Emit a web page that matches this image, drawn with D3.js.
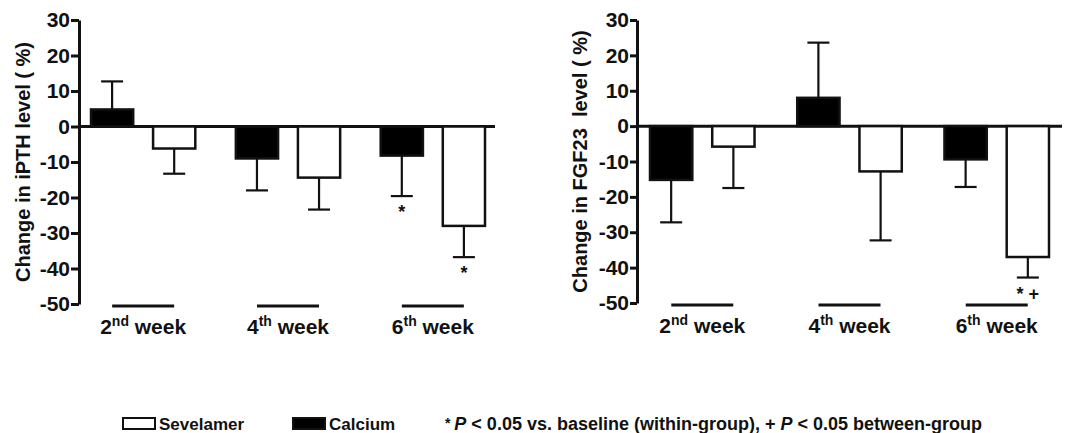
<!DOCTYPE html>
<html>
<head>
<meta charset="utf-8">
<script src="https://cdn.jsdelivr.net/npm/d3@7"></script>
<style>
  body { margin: 0; background: #fff; }
  svg { font-family: 'Liberation Sans', Arial, sans-serif; font-weight: bold; fill: #111; }
  .axis .tick text { font-size: 21px; font-weight: bold; fill: #111; }
  .axis path, .axis line { stroke: #111; stroke-width: 3; }
  .axis-title { font-size: 20px; }
  .week-label { font-size: 21px; }
  .mark { font-size: 18px; }
  .legend text { font-size: 17px; }
  .legend .note { font-size: 18px; }
</style>
</head>
<body>
<svg id="chart" width="1067" height="433"></svg>
<script>
// categories
const weeks = ['2', '4', '6'];
const weekSuffix = ['nd', 'th', 'th'];
const groups = ['Calcium', 'Sevelamer'];
const yTicks = [30, 20, 10, 0, -10, -20, -30, -40, -50];

// iPTH panel: mean change (%) and error bar length
const pthCalcium = [4.8, -9.0, -8.2];
const pthCalciumErr = [7.9, 9.0, 11.4];
const pthSevelamer = [-6.2, -14.4, -28.0];
const pthSevelamerErr = [7.1, 9.0, 8.8];
const pthMarks = [['', ''], ['', ''], ['*', '*']];

// FGF23 panel
const fgfCalcium = [-15.2, 8.0, -9.4];
const fgfCalciumErr = [12.0, 15.6, 7.8];
const fgfSevelamer = [-5.8, -12.8, -37.0];
const fgfSevelamerErr = [11.7, 19.5, 5.8];
const fgfMarks = [['', ''], ['', ''], ['', '* +']];

function makeRows(calc, calcErr, sev, sevErr, marks) {
  const rows = [];
  weeks.forEach((w, i) => {
    rows.push({week: w, group: 'Calcium', value: calc[i], err: calcErr[i], mark: marks[i][0]});
    rows.push({week: w, group: 'Sevelamer', value: sev[i], err: sevErr[i], mark: marks[i][1]});
  });
  return rows;
}

class GroupedBars {

  constructor(_config, _data) {
    this.config = {
      parentElement: _config.parentElement,
      axisX: _config.axisX,
      top: _config.top || 20,
      bottom: _config.bottom || 304,
      barRange: _config.barRange,
      lineEnd: _config.lineEnd,
      groupPadding: _config.groupPadding || 0.28,
      tickSize: _config.tickSize || 8,
      title: _config.title,
      titleX: _config.titleX
    };
    this.data = _data;
    this.initVis();
  }

  initVis() {
    let vis = this;
    const c = vis.config;

    vis.yScale = d3.scaleLinear()
        .domain([-50, 30])
        .range([c.bottom, c.top]);

    vis.xScale = d3.scaleBand()
        .domain(weeks)
        .range(c.barRange)
        .paddingInner(c.groupPadding);

    vis.xSub = d3.scaleBand()
        .domain(groups)
        .range([0, vis.xScale.bandwidth()])
        .paddingInner(0.32);

    vis.colorScale = d3.scaleOrdinal()
        .domain(groups)
        .range(['#000', '#fff']);

    // plain hyphen for negatives, like the original figure
    vis.yAxis = d3.axisLeft(vis.yScale)
        .tickValues(yTicks)
        .tickSize(c.tickSize)
        .tickSizeOuter(0)
        .tickPadding(1)
        .tickFormat(d => String(d));

    vis.svg = d3.select(c.parentElement);
    vis.chart = vis.svg.append('g');

    vis.chart.append('text')
        .attr('class', 'axis-title')
        .attr('transform', `translate(${c.titleX},${(c.top + c.bottom) / 2}) rotate(-90)`)
        .attr('text-anchor', 'middle')
        .attr('dominant-baseline', 'central')
        .attr('xml:space', 'preserve')
        .text(c.title);

    vis.updateVis();
  }

  updateVis() {
    let vis = this;
    vis.xValue = d => vis.xScale(d.week) + vis.xSub(d.group);
    vis.cx = d => vis.xValue(d) + vis.xSub.bandwidth() / 2;
    vis.tip = d => d.value + (d.value >= 0 ? d.err : -d.err);
    vis.renderVis();
  }

  renderVis() {
    let vis = this;
    const c = vis.config;
    const y0 = vis.yScale(0);

    // error bars (behind the bars)
    const err = vis.chart.selectAll('.err')
        .data(vis.data)
      .join('g')
        .attr('class', 'err')
        .attr('stroke', '#111')
        .attr('stroke-width', 2.2);

    err.append('line')
        .attr('x1', vis.cx).attr('x2', vis.cx)
        .attr('y1', d => vis.yScale(d.value))
        .attr('y2', d => vis.yScale(vis.tip(d)));

    err.append('line')
        .attr('x1', d => vis.cx(d) - 11).attr('x2', d => vis.cx(d) + 11)
        .attr('y1', d => vis.yScale(vis.tip(d)))
        .attr('y2', d => vis.yScale(vis.tip(d)));

    // zero line
    vis.chart.append('line')
        .attr('x1', c.axisX).attr('x2', c.lineEnd)
        .attr('y1', y0).attr('y2', y0)
        .attr('stroke', '#111')
        .attr('stroke-width', 3);

    vis.chart.selectAll('.bar')
        .data(vis.data)
      .join('rect')
        .attr('class', 'bar')
        .attr('x', vis.xValue)
        .attr('width', vis.xSub.bandwidth())
        .attr('y', d => Math.min(vis.yScale(d.value), y0))
        .attr('height', d => Math.abs(vis.yScale(d.value) - y0))
        .attr('fill', d => vis.colorScale(d.group))
        .attr('stroke', '#111')
        .attr('stroke-width', 2.5);

    // significance marks under the error bars
    vis.chart.selectAll('.mark')
        .data(vis.data.filter(d => d.mark))
      .join('text')
        .attr('class', 'mark')
        .attr('x', vis.cx)
        .attr('y', d => vis.yScale(vis.tip(d)) + 22)
        .attr('text-anchor', 'middle')
        .attr('xml:space', 'preserve')
        .text(d => d.mark);

    // week underlines and labels
    const wk = vis.chart.selectAll('.week')
        .data(weeks)
      .join('g')
        .attr('class', 'week')
        .attr('transform', w => `translate(${vis.xScale(w) + vis.xScale.bandwidth() / 2},0)`);

    wk.append('line')
        .attr('x1', -31).attr('x2', 31)
        .attr('y1', c.bottom + 2).attr('y2', c.bottom + 2)
        .attr('stroke', '#111')
        .attr('stroke-width', 3);

    const lbl = wk.append('text')
        .attr('class', 'week-label')
        .attr('y', c.bottom + 30)
        .attr('text-anchor', 'middle');
    lbl.append('tspan').text(w => w);
    lbl.append('tspan').attr('dy', -8).style('font-size', '14px').text((w, i) => weekSuffix[i]);
    lbl.append('tspan').attr('dy', 8).text(' week');

    vis.chart.append('g')
        .attr('class', 'axis y-axis')
        .attr('transform', `translate(${c.axisX},0)`)
        .call(vis.yAxis);
  }
}

const pthChart = new GroupedBars({
  parentElement: '#chart',
  axisX: 79,
  barRange: [91, 485],
  lineEnd: 495,
  title: 'Change in iPTH level ( %)',
  titleX: 23
}, makeRows(pthCalcium, pthCalciumErr, pthSevelamer, pthSevelamerErr, pthMarks));

const fgfChart = new GroupedBars({
  parentElement: '#chart',
  axisX: 637,
  bottom: 303,
  barRange: [650, 1049],
  lineEnd: 1062,
  groupPadding: 0.29,
  tickSize: 7,
  title: 'Change in FGF23  level ( %)',
  titleX: 580
}, makeRows(fgfCalcium, fgfCalciumErr, fgfSevelamer, fgfSevelamerErr, fgfMarks));

// legend
const legend = d3.select('#chart').append('g').attr('class', 'legend');
const legendItems = [
  {group: 'Sevelamer', x: 123},
  {group: 'Calcium', x: 293}
];
legendItems.forEach(item => {
  legend.append('rect')
      .attr('x', item.x).attr('y', 418)
      .attr('width', 32).attr('height', 11)
      .attr('fill', pthChart.colorScale(item.group))
      .attr('stroke', '#111')
      .attr('stroke-width', 2);
  legend.append('text')
      .attr('x', item.x + 36).attr('y', 430)
      .text(item.group);
});
const note = legend.append('text').attr('class', 'note').attr('x', 445).attr('y', 430).attr('xml:space', 'preserve');
note.append('tspan').style('font-size', '14px').attr('dy', -2).text('* ');
note.append('tspan').attr('dy', 2).style('font-style', 'italic').text('P');
note.append('tspan').text(' < 0.05 vs. baseline (within-group), + ');
note.append('tspan').style('font-style', 'italic').text('P');
note.append('tspan').text(' < 0.05 between-group');
</script>
</body>
</html>
